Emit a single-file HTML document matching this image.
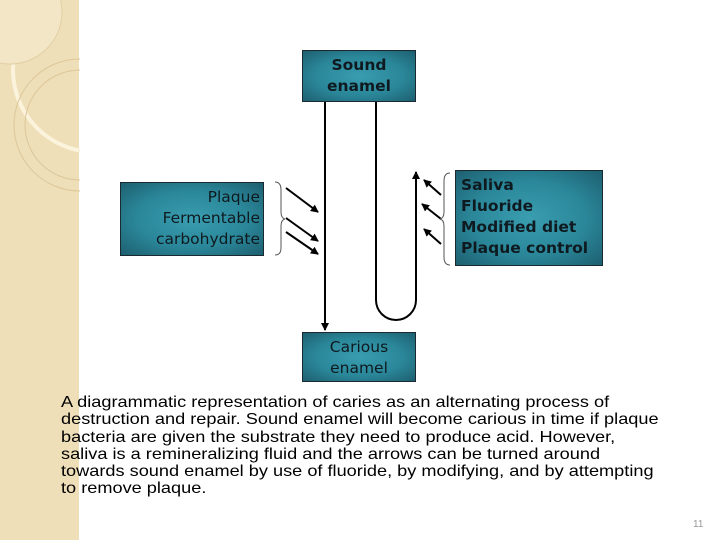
<!DOCTYPE html>
<html><head><style>
body{margin:0;width:720px;height:540px;background:#fff;position:relative;overflow:hidden;font-family:"DejaVu Sans","Liberation Sans",sans-serif}
.strip{position:absolute;left:0;top:0;width:79px;height:540px;background:#efdfb8}
.box{position:absolute;background:radial-gradient(ellipse at center,#3a9db0 0%,#2a8799 55%,#1d5f70 100%);border:1px solid #1a2a30;color:#0f1a20;font-size:15.5px;line-height:21px;box-sizing:border-box;font-weight:bold}
.cap{position:absolute;left:61px;top:394px;width:528px;font-family:"Liberation Sans",sans-serif;font-size:16px;line-height:17.3px;color:#000;transform:scaleX(1.135);transform-origin:0 0}
</style></head><body>
<div class="strip"></div>
<svg style="position:absolute;left:0;top:0" width="80" height="200">
<circle cx="95" cy="70" r="82" fill="none" stroke="#fbf3dc" stroke-width="4"/>
<circle cx="10" cy="12" r="52" fill="#f3e6c6" stroke="#e2cfa4" stroke-width="1"/>
<circle cx="80" cy="125" r="66" fill="none" stroke="#dcc69a" stroke-width="1"/>
<circle cx="80" cy="125" r="55" fill="none" stroke="#dcc69a" stroke-width="1"/>
</svg>
<div class="box" style="left:302px;top:50px;width:114px;height:52px;text-align:center;padding-top:4px">Sound<br>enamel</div>
<div class="box" style="left:120px;top:182px;width:144px;height:74px;text-align:right;padding:4px 3px 0 0;font-weight:normal;font-size:15.5px">Plaque<br>Fermentable<br>carbohydrate</div>
<div class="box" style="left:455px;top:170px;width:148px;height:96px;padding:4px 0 0 5px">Saliva<br>Fluoride<br>Modified diet<br>Plaque control</div>
<div class="box" style="left:302px;top:332px;width:114px;height:50px;text-align:center;padding-top:4px;font-weight:normal">Carious<br>enamel</div>
<svg style="position:absolute;left:0;top:0" width="720" height="540">
<defs><marker id="a" markerWidth="8" markerHeight="8" refX="7" refY="4" orient="auto" markerUnits="userSpaceOnUse"><path d="M0,0L8,4L0,8z" fill="#000"/></marker></defs>
<g stroke="#000" stroke-width="2" fill="none">
<line x1="325" y1="102" x2="325" y2="330" marker-end="url(#a)"/>
<path d="M376,102 V300 A20,20 0 0 0 416,300 V172" marker-end="url(#a)"/>
<line x1="286" y1="188" x2="318" y2="212" marker-end="url(#a)"/>
<line x1="286" y1="218" x2="318" y2="241" marker-end="url(#a)"/>
<line x1="286" y1="232" x2="318" y2="254" marker-end="url(#a)"/>
<line x1="441" y1="195" x2="424" y2="180" marker-end="url(#a)"/>
<line x1="441" y1="219" x2="422" y2="204" marker-end="url(#a)"/>
<line x1="441" y1="244" x2="424" y2="229" marker-end="url(#a)"/>
</g>
<g stroke="#555" stroke-width="1" fill="none">
<path d="M275,182 Q281,182 281,190 V212 Q281,218 285,219 Q281,220 281,226 V248 Q281,255 275,255"/>
<path d="M450,173 Q444,173 444,181 V212 Q444,218 440,219 Q444,220 444,226 V257 Q444,265 450,265"/>
</g>
<text x="693" y="527" font-family="Liberation Sans,sans-serif" font-size="10" fill="#999">11</text>
</svg>
<div class="cap">A diagrammatic representation of caries as an alternating process of destruction and repair. Sound enamel will become carious in time if plaque bacteria are given the substrate they need to produce acid. However, saliva is a remineralizing fluid and the arrows can be turned around towards sound enamel by use of fluoride, by modifying, and by attempting to remove plaque.</div>
</body></html>
